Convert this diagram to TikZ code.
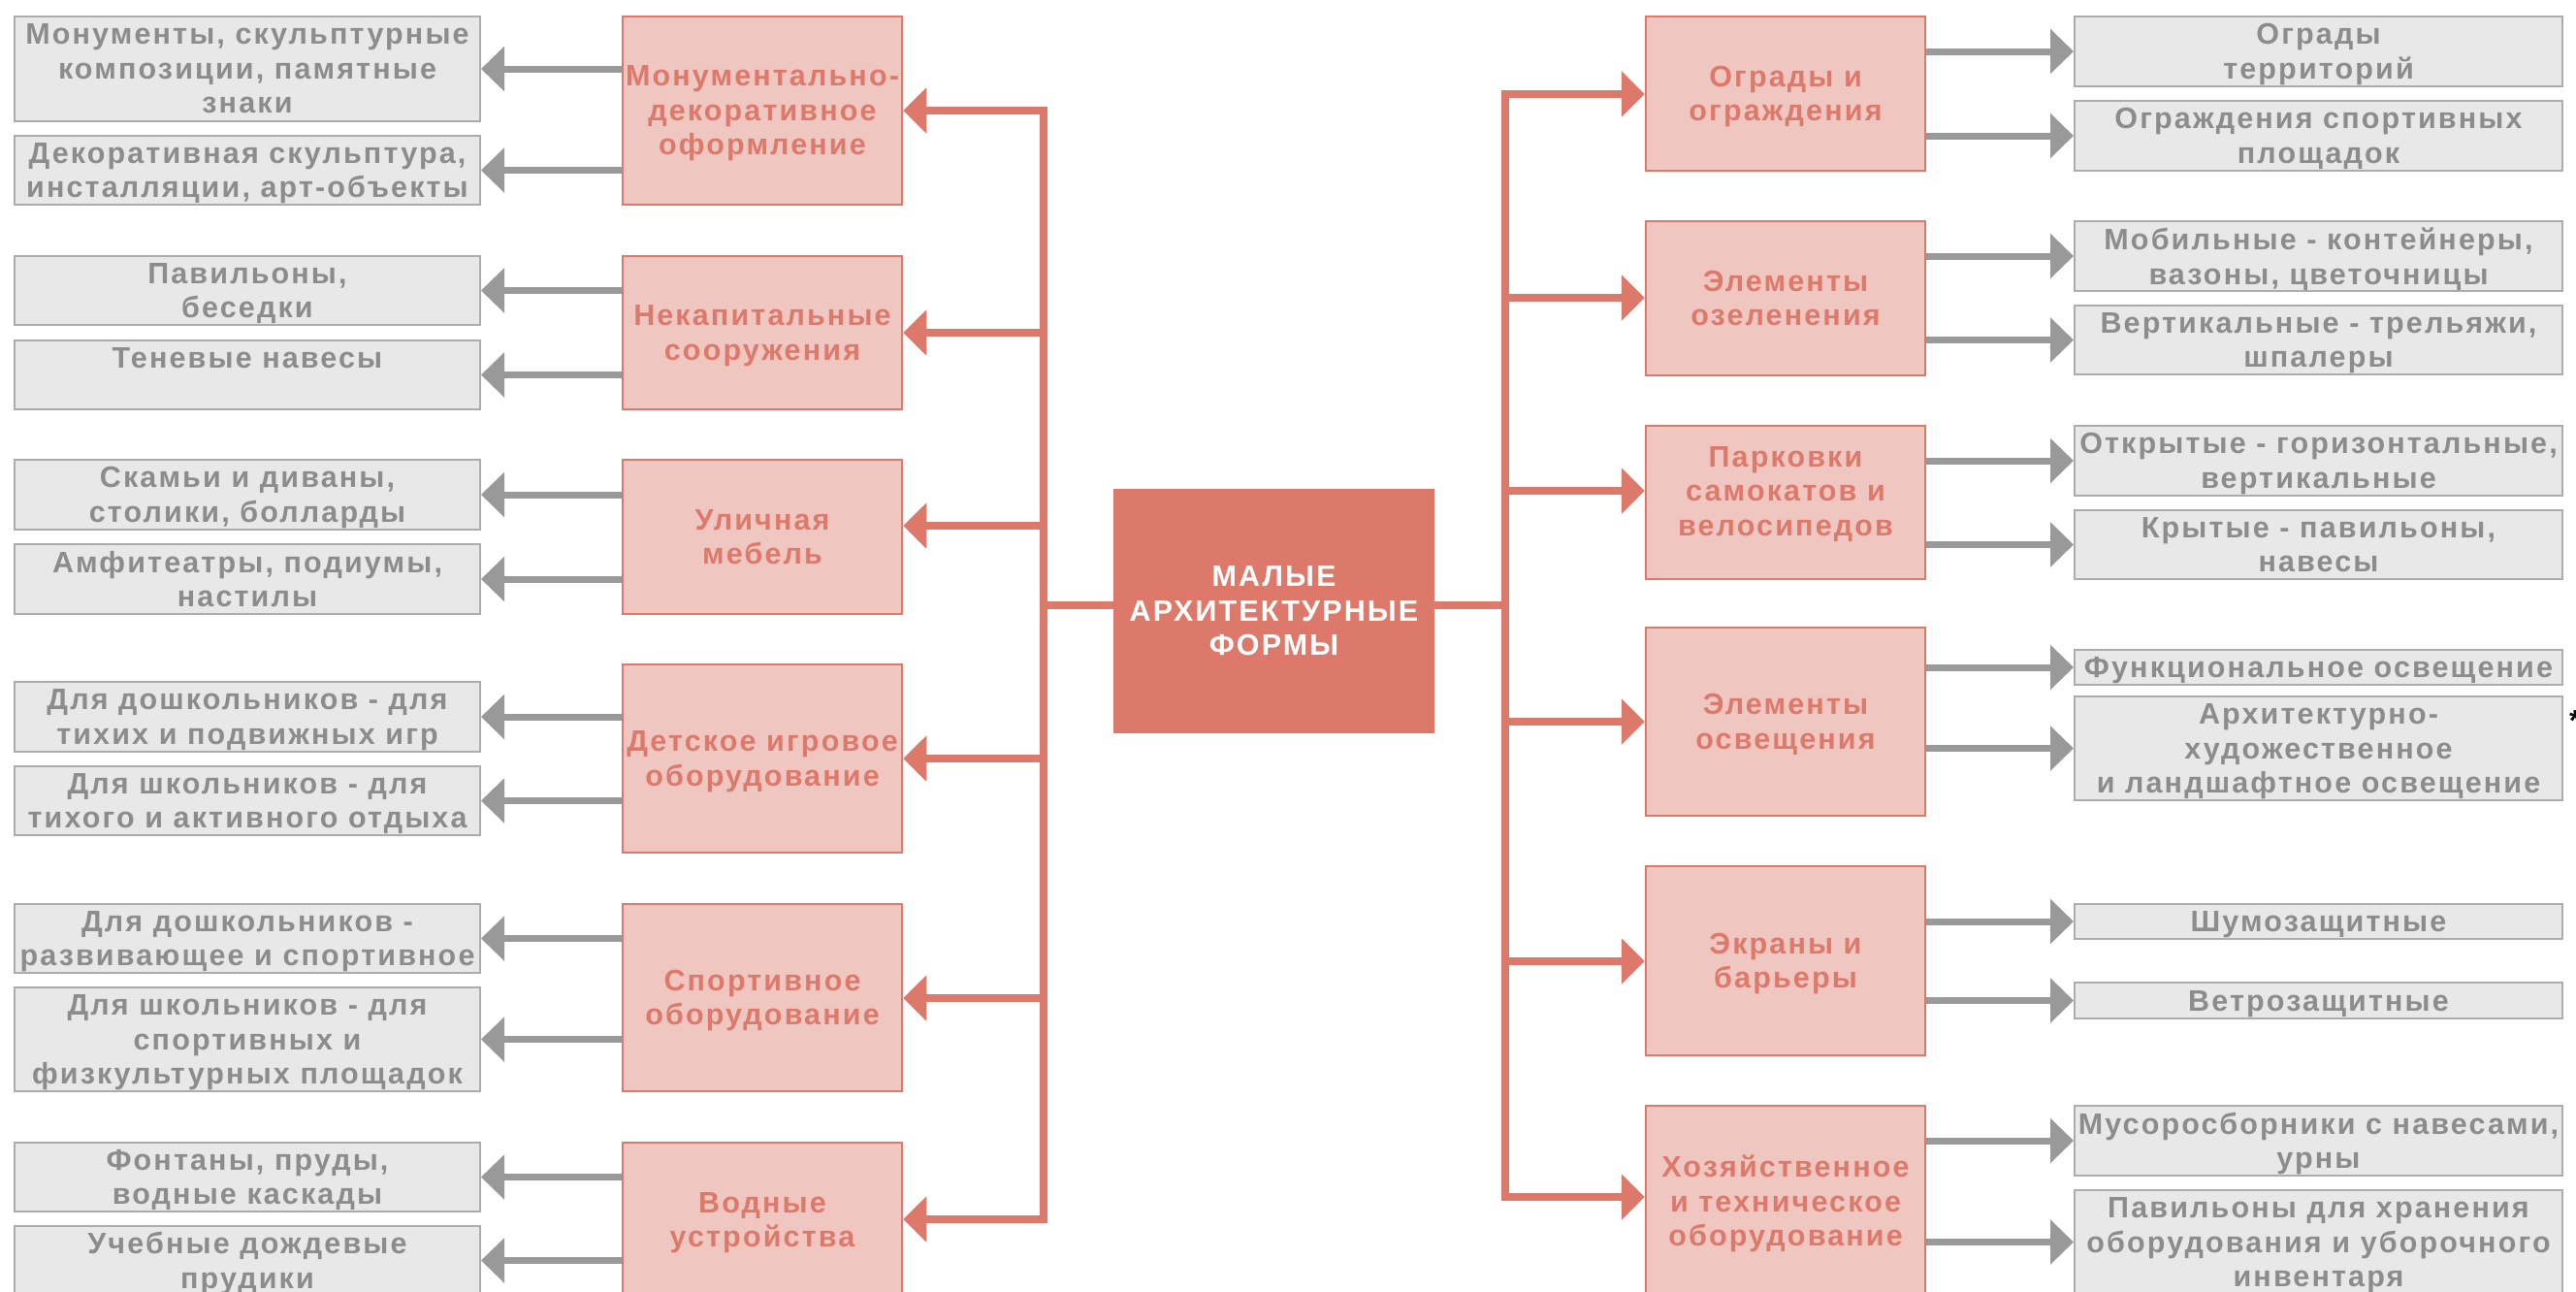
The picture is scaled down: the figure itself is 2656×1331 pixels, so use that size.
\documentclass[tikz,border=0pt]{standalone}
\usepackage{fontspec}
\setmainfont{Liberation Sans}[LetterSpace=7]
\usetikzlibrary{arrows.meta}
\definecolor{amfred}{RGB}{221,121,107}
\definecolor{amfpink}{RGB}{240,198,193}
\definecolor{amfgrey}{RGB}{232,232,232}
\definecolor{amfborder}{RGB}{172,172,172}
\definecolor{amftext}{RGB}{140,140,140}
\definecolor{amfline}{RGB}{153,153,153}
\newcommand\amffont{\fontsize{30.5}{35.5}\selectfont\bfseries}
\begin{document}
\begin{tikzpicture}[x=1pt,y=-1pt,
  cat/.style={draw=amfred, line width=2.5pt, fill=amfpink, text=amfred,
    minimum width=288pt, inner sep=0pt, align=center, font=\amffont, text depth=0pt},
  item/.style={draw=amfborder, line width=2pt, fill=amfgrey, text=amftext,
    inner sep=0pt, align=center, font=\amffont, text depth=0pt},
  litem/.style={item, minimum width=480pt},
  ritem/.style={item, minimum width=503pt},
  hub/.style={fill=amfred, text=white, minimum width=331pt, minimum height=252pt,
    inner sep=0pt, align=center, font=\amffont},
  redarrow/.style={draw=amfred, line width=7.5pt, -{Triangle[length=24pt,width=46pt]}},
  greyarrow/.style={draw=amfline, line width=7pt, -{Triangle[length=24pt,width=45pt]}},
  bus/.style={draw=amfred, line width=7.5pt, line cap=rect}
]
\clip (0,0) rectangle (2656,1331);
\fill[white] (0,0) rectangle (2656,1331);

% central node
\node[hub] (hub) at (1313.5,630) {МАЛЫЕ\\АРХИТЕКТУРНЫЕ\\ФОРМЫ};

% left categories
\node[cat, minimum height=194pt] (p1) at (786,114)    {Монументально-\\декоративное\\оформление};
\node[cat, minimum height=158pt] (p2) at (786,343)    {Некапитальные\\сооружения};
\node[cat, minimum height=159pt] (p3) at (786,553.5)  {Уличная\\мебель};
\node[cat, minimum height=194pt] (p4) at (786,782)    {Детское игровое\\оборудование};
\node[cat, minimum height=193pt] (p5) at (786,1028.5) {Спортивное\\оборудование};
\node[cat, minimum height=159pt] (p6) at (786,1257.5) {Водные\\устройства};

% right categories
\node[cat, minimum height=159pt] (r1) at (1841,96.5)  {Ограды и\\ограждения};
\node[cat, minimum height=159pt] (r2) at (1841,307.5) {Элементы\\озеленения};
\node[cat, minimum height=158pt, text depth=24pt] (r3) at (1841,518) {Парковки\\самокатов и\\велосипедов};
\node[cat, minimum height=194pt] (r4) at (1841,744)   {Элементы\\освещения};
\node[cat, minimum height=195pt] (r5) at (1841,990.5) {Экраны и\\барьеры};
\node[cat, minimum height=196pt] (r6) at (1841,1238)  {Хозяйственное\\и техническое\\оборудование};

% left items
\node[litem, minimum height=108pt] (g1)  at (255,71)     {Монументы, скульптурные\\композиции, памятные\\знаки};
\node[litem, minimum height=71pt]  (g2)  at (255,175.5)  {Декоративная скульптура,\\инсталляции, арт-объекты};
\node[litem, minimum height=71pt]  (g3)  at (255,299.5)  {Павильоны,\\беседки};
\node[litem, minimum height=71pt]  (g4)  at (255,386.5)  {Теневые навесы\\~};
\node[litem, minimum height=72pt]  (g5)  at (255,510)    {Скамьи и диваны,\\столики, болларды};
\node[litem, minimum height=72pt]  (g6)  at (255,597)    {Амфитеатры, подиумы,\\настилы};
\node[litem, minimum height=72pt]  (g7)  at (255,739)    {Для дошкольников - для\\тихих и подвижных игр};
\node[litem, minimum height=71pt]  (g8)  at (255,825.5)  {Для школьников - для\\тихого и активного отдыха};
\node[litem, minimum height=71pt]  (g9)  at (255,967.5)  {Для дошкольников -\\развивающее и спортивное};
\node[litem, minimum height=107pt] (g10) at (255,1071.5) {Для школьников - для\\спортивных и\\физкультурных площадок};
\node[litem, minimum height=71pt]  (g11) at (255,1213.5) {Фонтаны, пруды,\\водные каскады};
\node[litem, minimum height=71pt]  (g12) at (255,1299.5) {Учебные дождевые\\прудики};

% right items
\node[ritem, minimum height=72pt]  (h1)  at (2390.5,53)     {Ограды\\территорий};
\node[ritem, minimum height=72pt]  (h2)  at (2390.5,140)    {Ограждения спортивных\\площадок};
\node[ritem, minimum height=72pt]  (h3)  at (2390.5,264)    {Мобильные - контейнеры,\\вазоны, цветочницы};
\node[ritem, minimum height=71pt]  (h4)  at (2390.5,350.5)  {Вертикальные - трельяжи,\\шпалеры};
\node[ritem, minimum height=72pt]  (h5)  at (2390.5,475)    {Открытые - горизонтальные,\\вертикальные};
\node[ritem, minimum height=71pt]  (h6)  at (2390.5,561.5)  {Крытые - павильоны,\\навесы};
\node[ritem, minimum height=36pt]  (h7)  at (2390.5,688)    {Функциональное освещение};
\node[ritem, minimum height=107pt] (h8)  at (2390.5,771.5)  {Архитектурно-\\художественное\\и ландшафтное освещение};
\node[ritem, minimum height=36pt]  (h9)  at (2390.5,950)    {Шумозащитные};
\node[ritem, minimum height=37pt]  (h10) at (2390.5,1031.5) {Ветрозащитные};
\node[ritem, minimum height=72pt]  (h11) at (2390.5,1176)   {Мусоросборники с навесами,\\урны};
\node[ritem, minimum height=107pt] (h12) at (2390.5,1280.5) {Павильоны для хранения\\оборудования и уборочного\\инвентаря};

\node[anchor=base west, font=\amffont, text=black, inner sep=0pt] (star) at (2649,753) {*};

% bus junctions
\coordinate (lb1) at (1076,114);
\coordinate (lb2) at (1076,343);
\coordinate (lb3) at (1076,542);
\coordinate (lb4) at (1076,782);
\coordinate (lb5) at (1076,1029);
\coordinate (lb6) at (1076,1257);
\coordinate (lbc) at (1076,624);
\coordinate (rb1) at (1552,97);
\coordinate (rb2) at (1552,307);
\coordinate (rb3) at (1552,506);
\coordinate (rb4) at (1552,744);
\coordinate (rb5) at (1552,991);
\coordinate (rb6) at (1552,1234);
\coordinate (rbc) at (1552,624);

% buses
\draw[bus] (lb1) -- (lb6);
\draw[bus] (rb1) -- (rb6);
\draw[bus, line cap=butt] (lbc -| hub.west) -- (lbc);
\draw[bus, line cap=butt] (rbc -| hub.east) -- (rbc);

% red arrows to categories
\foreach \i in {1,...,6} {
  \draw[redarrow] (lb\i) -- (lb\i -| p\i.east);
  \draw[redarrow] (rb\i) -- (rb\i -| r\i.west);
}

% grey arrows to items
\foreach \p/\a/\b in {p1/g1/g2, p2/g3/g4, p3/g5/g6, p4/g7/g8, p5/g9/g10, p6/g11/g12} {
  \draw[greyarrow] (\p.west |- \a.east) -- (\a.east);
  \draw[greyarrow] (\p.west |- \b.east) -- (\b.east);
}
\foreach \p/\a/\b in {r1/h1/h2, r2/h3/h4, r3/h5/h6, r4/h7/h8, r5/h9/h10, r6/h11/h12} {
  \draw[greyarrow] (\p.east |- \a.west) -- (\a.west);
  \draw[greyarrow] (\p.east |- \b.west) -- (\b.west);
}
\end{tikzpicture}
\end{document}
